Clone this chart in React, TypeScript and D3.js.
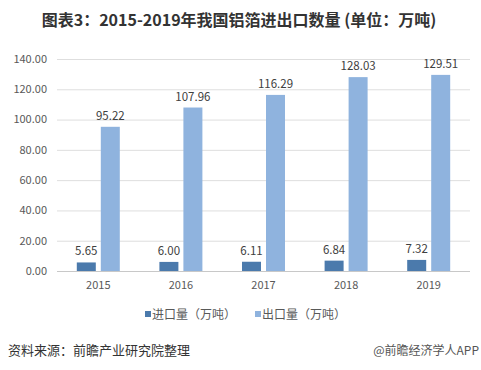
import React, { useEffect, useRef } from "react";
import * as d3 from "d3";

const years = ["2015", "2016", "2017", "2018", "2019"];
const importVals = [5.65, 6.0, 6.11, 6.84, 7.32];
const exportVals = [95.22, 107.96, 116.29, 128.03, 129.51];
const yTicks = [0, 20, 40, 60, 80, 100, 120, 140];
const seriesNames = ["进口量（万吨）", "出口量（万吨）"];
const colors = ["#4b7aac", "#8fb3de"];

const width = 481;
const height = 370;
const margin = { top: 59, right: 11, bottom: 99, left: 57 };
const font = "'Noto Sans CJK SC', 'Noto Sans', sans-serif";

function App() {
  const svgRef = useRef<SVGSVGElement>(null);

  useEffect(() => {
    const svg = d3.select(svgRef.current);
    svg.selectAll("*").remove();

    const x = d3
      .scaleBand()
      .domain(years)
      .range([margin.left, width - margin.right]);

    const y = d3
      .scaleLinear()
      .domain([0, 140])
      .range([height - margin.bottom, margin.top]);

    const barW = 19;
    const gap = 5;

    // title
    svg
      .append("text")
      .attr("x", 239)
      .attr("y", 26)
      .attr("text-anchor", "middle")
      .attr("font-family", font)
      .attr("font-size", 16)
      .attr("font-weight", "bold")
      .attr("fill", "#333")
      .text("图表3：2015-2019年我国铝箔进出口数量 (单位：万吨)");

    // grid
    svg
      .append("g")
      .selectAll("line")
      .data(yTicks)
      .join("line")
      .attr("x1", margin.left)
      .attr("x2", width - margin.right)
      .attr("y1", (d) => y(d) + 0.5)
      .attr("y2", (d) => y(d) + 0.5)
      .attr("stroke", (d) => (d === 0 ? "#c8c8c8" : "#dedede"))
      .attr("stroke-width", 1);

    // y labels
    svg
      .append("g")
      .selectAll("text")
      .data(yTicks)
      .join("text")
      .attr("x", 47)
      .attr("y", (d) => y(d))
      .attr("dy", "0.35em")
      .attr("text-anchor", "end")
      .attr("font-family", font)
      .attr("font-size", 11)
      .attr("fill", "#595959")
      .text((d) => d.toFixed(2));

    // x labels
    svg
      .append("g")
      .selectAll("text")
      .data(years)
      .join("text")
      .attr("x", (d) => x(d)! + x.bandwidth() / 2)
      .attr("y", 289)
      .attr("text-anchor", "middle")
      .attr("font-family", font)
      .attr("font-size", 11)
      .attr("fill", "#595959")
      .text((d) => d);

    const series = [importVals, exportVals];
    series.forEach((vals, si) => {
      const offset = si === 0 ? -gap / 2 - barW : gap / 2;
      const g = svg.append("g");
      g.selectAll("rect")
        .data(vals)
        .join("rect")
        .attr("x", (d, i) => x(years[i])! + x.bandwidth() / 2 + offset)
        .attr("y", (d) => y(d))
        .attr("width", barW)
        .attr("height", (d) => y(0) - y(d))
        .attr("fill", colors[si]);
      g.selectAll("text")
        .data(vals)
        .join("text")
        .attr("x", (d, i) => x(years[i])! + x.bandwidth() / 2 + offset + barW / 2)
        .attr("y", (d) => y(d) - 7)
        .attr("text-anchor", "middle")
        .attr("font-family", font)
        .attr("font-size", 11.5)
        .attr("fill", "#404040")
        .text((d) => d.toFixed(2));
    });

    // legend
    const legendX = [145, 255];
    seriesNames.forEach((name, i) => {
      svg
        .append("rect")
        .attr("x", legendX[i])
        .attr("y", 311)
        .attr("width", 6)
        .attr("height", 6)
        .attr("fill", colors[i]);
      svg
        .append("text")
        .attr("x", legendX[i] + 7)
        .attr("y", 319)
        .attr("font-family", font)
        .attr("font-size", 12)
        .attr("fill", "#595959")
        .text(name);
    });

    // footer
    svg
      .append("text")
      .attr("x", 8)
      .attr("y", 355)
      .attr("font-family", font)
      .attr("font-size", 13)
      .attr("fill", "#333")
      .text("资料来源：前瞻产业研究院整理");
    svg
      .append("text")
      .attr("x", 479)
      .attr("y", 355)
      .attr("text-anchor", "end")
      .attr("font-family", font)
      .attr("font-size", 12)
      .attr("fill", "#555")
      .text("@前瞻经济学人APP");
  }, []);

  return (
    <svg
      ref={svgRef}
      width={width}
      height={height}
      style={{ position: "absolute", left: 0, top: 0, background: "#fff" }}
    ></svg>
  );
}

export default App;
